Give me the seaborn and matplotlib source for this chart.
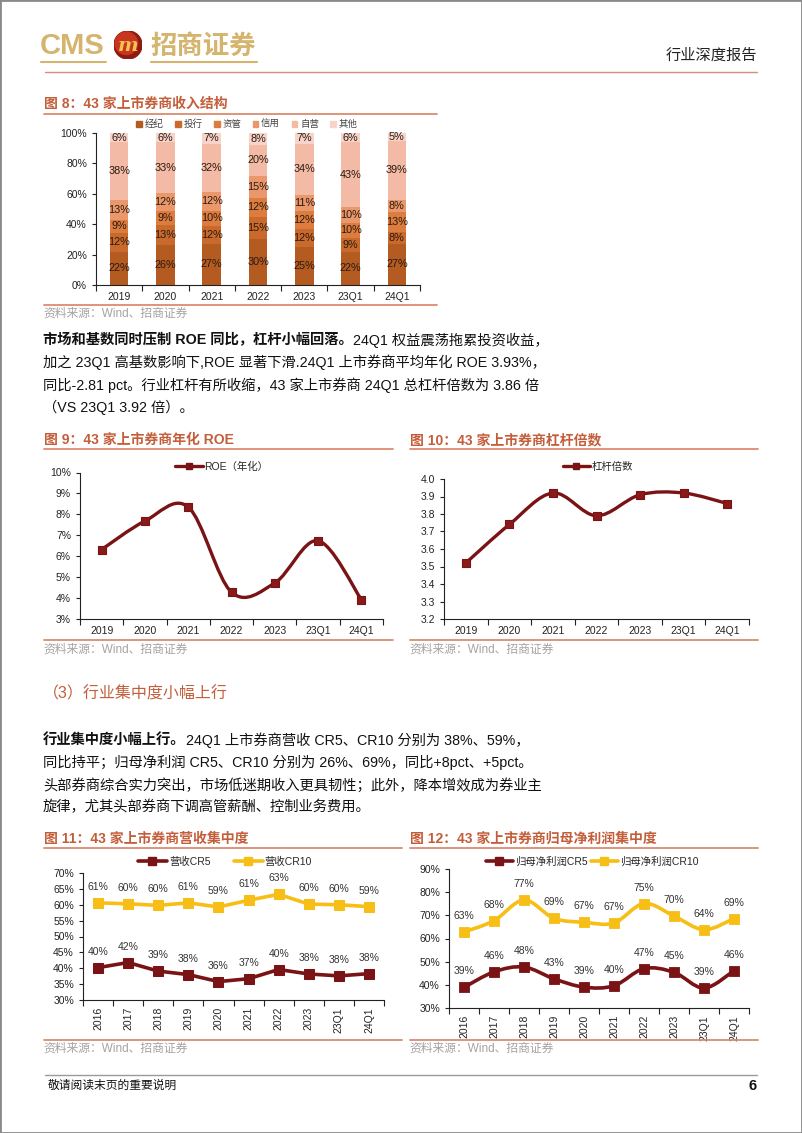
import numpy as np
import pandas as pd
import matplotlib
matplotlib.use('Agg')
import matplotlib.pyplot as plt
import seaborn as sns
from matplotlib.path import Path
from matplotlib.patches import PathPatch, Circle, Rectangle
from matplotlib.lines import Line2D

sns.set_style('ticks')
plt.rcParams['font.family'] = ['Liberation Sans', 'Noto Sans CJK SC', 'DejaVu Sans']
plt.rcParams['axes.unicode_minus'] = False

W, H = 802, 1133

# ---- data ----
years8 = ['2019', '2020', '2021', '2022', '2023', '23Q1', '24Q1']
biz = ['经纪', '投行', '资管', '信用', '自营', '其他']
brokerage = [22, 26, 27, 30, 25, 22, 27]
invest_bank = [12, 13, 12, 15, 12, 9, 8]
asset_mgmt = [9, 9, 10, 12, 12, 10, 13]
credit = [13, 12, 12, 15, 11, 10, 8]
proprietary = [38, 33, 32, 20, 34, 43, 39]
other = [6, 6, 7, 8, 7, 6, 5]

roe = [6.32, 7.68, 8.35, 4.28, 4.72, 6.74, 3.93]
leverage = [3.52, 3.74, 3.92, 3.79, 3.91, 3.92, 3.86]

years11 = ['2016', '2017', '2018', '2019', '2020', '2021', '2022', '2023', '23Q1', '24Q1']
rev_cr5 = [40.2, 41.8, 39.1, 38.0, 35.8, 36.7, 39.6, 38.2, 37.6, 38.3]
rev_cr10 = [60.6, 60.3, 59.8, 60.6, 59.3, 61.4, 63.3, 60.2, 60.0, 59.4]
np_cr5 = [38.9, 45.6, 47.7, 42.6, 39.0, 39.6, 47.0, 45.4, 38.6, 46.1]
np_cr10 = [62.8, 67.7, 76.6, 68.7, 67.0, 66.7, 75.1, 69.7, 63.8, 68.6]

# ---- style ----
TITLE_C = '#C45E3A'
LINE_C = '#DC8B6E'
MAROON = '#7A1315'
GOLD = '#F7BE16'
LOGO_GOLD = '#D5B46E'
SRC_C = '#A3A3A3'
stack_colors = ['#B45B22', '#C96A2C', '#DC7C3E', '#EA976B', '#F3BBA6', '#F7D3CA']

fig = plt.figure(figsize=(W / 100, H / 100), dpi=100)


def rect(x0, y0, x1, y1):
    return [x0 / W, 1 - y1 / H, (x1 - x0) / W, (y1 - y0) / H]


def ftext(x, y, s, **kw):
    kw.setdefault('va', 'center')
    return fig.text(x / W, 1 - y / H, s, **kw)


def hline(x0, x1, y, color, lw=1.0):
    fig.add_artist(Line2D([x0 / W, x1 / W], [1 - y / H, 1 - y / H], color=color, lw=lw))


def rich_line(x, y, parts, size=10.3):
    renderer = fig.canvas.get_renderer()
    cur = x
    for s, w in parts:
        t = ftext(cur, y, s, fontsize=size, weight=w, color='#111111')
        cur += t.get_window_extent(renderer).width


def smooth_path(xs, ys):
    xs = np.asarray(xs, float)
    ys = np.asarray(ys, float)
    n = len(xs)
    verts = [(xs[0], ys[0])]
    codes = [Path.MOVETO]
    for i in range(n - 1):
        i0, i3 = max(i - 1, 0), min(i + 2, n - 1)
        c1 = (xs[i] + (xs[i + 1] - xs[i0]) / 6, ys[i] + (ys[i + 1] - ys[i0]) / 6)
        c2 = (xs[i + 1] - (xs[i3] - xs[i]) / 6, ys[i + 1] - (ys[i3] - ys[i]) / 6)
        verts += [c1, c2, (xs[i + 1], ys[i + 1])]
        codes += [Path.CURVE4] * 3
    return Path(verts, codes)


def style_axis(ax, cats, rotate=False):
    n = len(cats)
    ax.set_xlim(-0.5, n - 0.5)
    ax.set_xticks(np.arange(n))
    ax.set_xticklabels(cats, rotation=90 if rotate else 0)
    ax.set_xticks(np.arange(-0.5, n), minor=True)
    ax.tick_params(axis='x', which='major', length=0, pad=5, labelsize=7.5, labelcolor='#222222')
    ax.tick_params(axis='x', which='minor', length=4, width=0.8, color='#222222')
    ax.tick_params(axis='y', length=3, width=0.8, color='#222222', labelsize=7.5, labelcolor='#222222')
    sns.despine(ax=ax)
    for sp in ['left', 'bottom']:
        ax.spines[sp].set_color('#222222')
        ax.spines[sp].set_linewidth(0.8)
    ax.set_xlabel('')
    ax.set_ylabel('')


def line_legend(ax, items, cx, cy, spacing=1.5, hl=2.6):
    handles = [Line2D([], [], color=c, lw=lw, marker='s', markersize=ms, markerfacecolor=c,
                      markeredgecolor=c) for _, c, lw, ms in items]
    ax.legend(handles, [t for t, _, _, _ in items], ncol=len(items), loc='center',
              bbox_to_anchor=(cx / W, 1 - cy / H), bbox_transform=fig.transFigure,
              frameon=False, fontsize=7.5, handlelength=hl, handletextpad=0.2,
              columnspacing=spacing, borderpad=0)


# ---- page frame & header ----
fig.add_artist(Rectangle((0, 0), 1, 1, transform=fig.transFigure, fill=False,
                         edgecolor='#8A8A8A', lw=2))
ftext(40, 46, 'CMS', fontsize=21, weight='bold', color=LOGO_GOLD, family='Liberation Sans')
hline(41, 106, 62, LOGO_GOLD, lw=1.5)
ax_logo = fig.add_axes(rect(114, 31, 142, 59))
ax_logo.set_xlim(-1, 1)
ax_logo.set_ylim(-1, 1)
ax_logo.set_aspect('equal')
ax_logo.axis('off')
ax_logo.add_patch(Circle((0, 0), 1, color='#8E1B12'))
ax_logo.add_patch(Circle((-0.12, 0.12), 0.8, color='#C8361F'))
ax_logo.text(0, -0.05, 'm', color='#F2C44F', fontsize=14, weight='bold', style='italic',
             ha='center', va='center', family='DejaVu Serif')
ftext(150, 46, '招商证券', fontsize=19, weight='bold', color=LOGO_GOLD, family='Noto Sans CJK SC')
hline(151, 257, 62, LOGO_GOLD, lw=1.5)
ftext(757, 56, '行业深度报告', fontsize=11, ha='right', color='#222222')
hline(45, 757, 72, '#D98C78', lw=1)

# ---- figure 8: stacked bars ----
ftext(44, 104, '图 8：43 家上市券商收入结构', fontsize=10, weight='bold', color=TITLE_C)
hline(44, 437, 114, LINE_C, lw=1.3)

df8 = pd.DataFrame({'year': years8, '经纪': brokerage, '投行': invest_bank, '资管': asset_mgmt,
                    '信用': credit, '自营': proprietary, '其他': other})
share = df8[biz].div(df8[biz].sum(axis=1), axis=0) * 100
cum = share.cumsum(axis=1)

ax8 = fig.add_axes(rect(96, 133, 420, 285))
for k in reversed(range(len(biz))):
    sns.barplot(x=df8['year'], y=cum[biz[k]], color=stack_colors[k], width=0.4,
                saturation=1, ax=ax8, linewidth=0)
for k, b in enumerate(biz):
    for i in range(len(years8)):
        ax8.text(i, cum[b][i] - share[b][i] / 2, f'{df8[b][i]}%', ha='center', va='center',
                 fontsize=7.8, color='#2A1A10')
ax8.set_ylim(0, 100)
ax8.set_yticks(range(0, 101, 20))
ax8.set_yticklabels([f'{v}%' for v in range(0, 101, 20)])
style_axis(ax8, years8)
ax8.legend([Rectangle((0, 0), 1, 1, color=c) for c in stack_colors], biz, ncol=6, loc='center',
           bbox_to_anchor=(247 / W, 1 - 124 / H), bbox_transform=fig.transFigure, frameon=False,
           fontsize=6.8, handlelength=0.6, handleheight=0.6, handletextpad=0.3,
           columnspacing=1.2, borderpad=0, labelcolor='#444444')
hline(44, 437, 305, LINE_C, lw=1.3)
ftext(43, 314, '资料来源：Wind、招商证券', fontsize=8.5, color=SRC_C)

# ---- paragraph 1 ----
rich_line(43, 340, [('市场和基数同时压制 ROE 同比，杠杆小幅回落。', 'bold'),
                    ('24Q1 权益震荡拖累投资收益，', 'normal')])
rich_line(43, 362, [('加之 23Q1 高基数影响下,ROE 显著下滑.24Q1 上市券商平均年化 ROE 3.93%，', 'normal')])
rich_line(43, 385, [('同比-2.81 pct。行业杠杆有所收缩，43 家上市券商 24Q1 总杠杆倍数为 3.86 倍', 'normal')])
rich_line(43, 407, [('（VS 23Q1 3.92 倍）。', 'normal')])

# ---- figure 9: ROE ----
ftext(44, 440, '图 9：43 家上市券商年化 ROE', fontsize=10, weight='bold', color=TITLE_C)
hline(44, 393, 449, LINE_C, lw=1.3)
ax9 = fig.add_axes(rect(80, 472.5, 383, 619))
x7 = np.arange(len(years8))
ax9.add_patch(PathPatch(smooth_path(x7, roe), fill=False, edgecolor=MAROON, lw=2.4, zorder=2))
sns.scatterplot(x=x7, y=roe, marker='s', s=40, color='#8A1A1A', edgecolor=MAROON,
                linewidth=0.8, ax=ax9, zorder=3)
ax9.set_ylim(3, 10)
ax9.set_yticks(range(3, 11))
ax9.set_yticklabels([f'{v}%' for v in range(3, 11)])
style_axis(ax9, years8)
line_legend(ax9, [('ROE（年化）', MAROON, 2.4, 5)], 222, 467)
hline(44, 393, 640, LINE_C, lw=1.3)
ftext(43, 650, '资料来源：Wind、招商证券', fontsize=8.5, color=SRC_C)

# ---- figure 10: leverage ----
ftext(410, 440, '图 10：43 家上市券商杠杆倍数', fontsize=10, weight='bold', color=TITLE_C)
hline(410, 758, 449, LINE_C, lw=1.3)
ax10 = fig.add_axes(rect(444, 479, 749, 619))
ax10.add_patch(PathPatch(smooth_path(x7, leverage), fill=False, edgecolor=MAROON, lw=2.4, zorder=2))
sns.scatterplot(x=x7, y=leverage, marker='s', s=40, color='#8A1A1A', edgecolor=MAROON,
                linewidth=0.8, ax=ax10, zorder=3)
ax10.set_ylim(3.2, 4.0)
lev_ticks = np.round(np.arange(3.2, 4.01, 0.1), 1)
ax10.set_yticks(lev_ticks)
ax10.set_yticklabels([f'{v:.1f}' for v in lev_ticks])
style_axis(ax10, years8)
line_legend(ax10, [('杠杆倍数', MAROON, 2.4, 5)], 598, 467)
hline(410, 758, 640, LINE_C, lw=1.3)
ftext(409, 650, '资料来源：Wind、招商证券', fontsize=8.5, color=SRC_C)

# ---- section 3 ----
ftext(43, 694, '（3）行业集中度小幅上行', fontsize=11.5, color=TITLE_C)
rich_line(43, 740, [('行业集中度小幅上行。', 'bold'),
                    ('24Q1 上市券商营收 CR5、CR10 分别为 38%、59%，', 'normal')])
rich_line(43, 762, [('同比持平；归母净利润 CR5、CR10 分别为 26%、69%，同比+8pct、+5pct。', 'normal')])
rich_line(43, 785, [('头部券商综合实力突出，市场低迷期收入更具韧性；此外，降本增效成为券业主', 'normal')])
rich_line(43, 807, [('旋律，尤其头部券商下调高管薪酬、控制业务费用。', 'normal')])

x10 = np.arange(len(years11))

# ---- figure 11: revenue concentration ----
ftext(44, 839, '图 11：43 家上市券商营收集中度', fontsize=10, weight='bold', color=TITLE_C)
hline(44, 402, 848, LINE_C, lw=1.3)
ax11 = fig.add_axes(rect(83, 873, 384, 1000))
sns.lineplot(x=x10, y=rev_cr5, color=MAROON, lw=2.6, marker='s', markersize=7,
             markeredgecolor=MAROON, ax=ax11)
sns.lineplot(x=x10, y=rev_cr10, color=GOLD, lw=2.6, marker='s', markersize=7,
             markeredgecolor=GOLD, ax=ax11)
for series in (rev_cr5, rev_cr10):
    for i, v in enumerate(series):
        ax11.annotate(f'{round(v)}%', (i, v), xytext=(0, 11.5), textcoords='offset points',
                      ha='center', va='center', fontsize=7.5, color='#333333')
ax11.set_ylim(30, 70)
ax11.set_yticks(range(30, 71, 5))
ax11.set_yticklabels([f'{v}%' for v in range(30, 71, 5)])
style_axis(ax11, years11, rotate=True)
line_legend(ax11, [('营收CR5', MAROON, 2.6, 6), ('营收CR10', GOLD, 2.6, 6)], 225, 862,
            spacing=2.2, hl=2.8)
hline(44, 402, 1040, LINE_C, lw=1.3)
ftext(43, 1049, '资料来源：Wind、招商证券', fontsize=8.5, color=SRC_C)

# ---- figure 12: net profit concentration ----
ftext(410, 839, '图 12：43 家上市券商归母净利润集中度', fontsize=10, weight='bold', color=TITLE_C)
hline(410, 758, 848, LINE_C, lw=1.3)
ax12 = fig.add_axes(rect(449, 869, 749, 1008))
for series, c in ((np_cr5, MAROON), (np_cr10, GOLD)):
    ax12.add_patch(PathPatch(smooth_path(x10, series), fill=False, edgecolor=c, lw=2.6, zorder=2))
    sns.scatterplot(x=x10, y=series, marker='s', s=55, color=c, edgecolor=c, linewidth=0.6,
                    ax=ax12, zorder=3)
    for i, v in enumerate(series):
        ax12.annotate(f'{round(v)}%', (i, v), xytext=(0, 11.5), textcoords='offset points',
                      ha='center', va='center', fontsize=7.5, color='#333333')
ax12.set_ylim(30, 90)
ax12.set_yticks(range(30, 91, 10))
ax12.set_yticklabels([f'{v}%' for v in range(30, 91, 10)])
style_axis(ax12, years11, rotate=True)
line_legend(ax12, [('归母净利润CR5', MAROON, 2.6, 6), ('归母净利润CR10', GOLD, 2.6, 6)], 592, 862,
            spacing=0.3, hl=2.6)
hline(410, 758, 1040, LINE_C, lw=1.3)
ftext(409, 1049, '资料来源：Wind、招商证券', fontsize=8.5, color=SRC_C)

# ---- footer ----
hline(45, 757, 1075, '#9A9A9A', lw=1)
ftext(48, 1086, '敬请阅读末页的重要说明', fontsize=8.5, color='#111111')
ftext(757, 1086, '6', fontsize=10.5, weight='bold', ha='right', color='#111111')

fig.savefig('out.png', dpi=100)
